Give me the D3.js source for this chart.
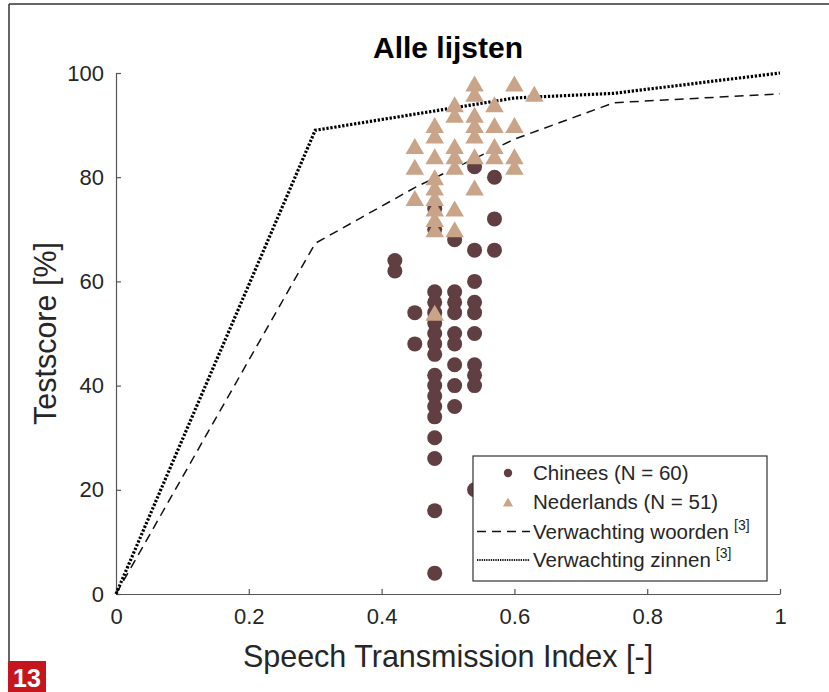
<!DOCTYPE html>
<html><head><meta charset="utf-8">
<script src="https://cdn.jsdelivr.net/npm/d3@7"></script>
<style>
html,body{margin:0;padding:0;background:#fff;}
svg{display:block;font-family:"Liberation Sans",Arial,Helvetica,sans-serif;}
</style></head>
<body><svg id="c" width="829" height="692"></svg>
<script>
// ---- data ----
const chineesX = [0.42,0.42, 0.45,0.45,
  0.48,0.48,0.48,0.48,0.48,0.48,0.48,0.48,0.48,0.48,0.48,0.48,0.48,0.48,0.48,0.48,0.48,0.48,
  0.51,0.51,0.51,0.51,0.51,0.51,0.51,0.51,0.51,
  0.54,0.54,0.54,0.54,0.54,0.54,0.54,0.54,0.54,0.54,
  0.57,0.57,0.57];
const chineesY = [64,62, 54,48,
  74,70,58,56,54,52,50,48,46,42,40,38,36,34,30,26,16,4,
  68,58,56,54,50,48,44,40,36,
  82,66,60,56,54,50,44,42,40,20,
  80,72,66];
const nederlandsX = [0.45,0.45,0.45,
  0.48,0.48,0.48,0.48,0.48,0.48,0.48,0.48,0.48,0.48,
  0.51,0.51,0.51,0.51,0.51,0.51,0.51,
  0.54,0.54,0.54,0.54,0.54,0.54,0.54,
  0.57,0.57,0.57,0.57,
  0.60,0.60,0.60,0.60,
  0.63];
const nederlandsY = [86,82,76,
  90,88,84,80,78,76,74,72,70,54,
  94,92,86,84,82,74,70,
  98,96,92,90,88,84,78,
  94,90,86,84,
  98,90,84,82,
  96];
const woordenX = [0,0.3,0.45,0.6,0.75,1];
const woordenY = [0,67.3,78,87.3,94.3,96];
const zinnenX = [0,0.3,0.6,0.75,1];
const zinnenY = [0,89,95.2,96.1,100];
const xTicks = [0,0.2,0.4,0.6,0.8,1];
const yTicks = [0,20,40,60,80,100];
const legendLabels = ["Chinees (N = 60)","Nederlands (N = 51)","Verwachting woorden","Verwachting zinnen"];

// ---- layout ----
const svg = d3.select("#c");
const L=116, R=780, T=73, B=594;
const x = d3.scaleLinear().domain([0,1]).range([L,R]);
const y = d3.scaleLinear().domain([0,100]).range([B,T]);
const axisCol="#555", textCol="#262626";
const cCol="#613e41", tCol="#c9a488";

// outer frame
svg.append("line").attr("x1",9).attr("x2",829).attr("y1",4).attr("y2",4).attr("stroke","#333").attr("stroke-width",1.5);
svg.append("line").attr("x1",9).attr("x2",9).attr("y1",4).attr("y2",661).attr("stroke","#333").attr("stroke-width",1.5);
svg.append("rect").attr("x",8).attr("y",661).attr("width",38).attr("height",31).attr("fill","#c4161c");
svg.append("text").attr("x",27).attr("y",687).attr("text-anchor","middle").attr("fill","#fff")
  .attr("font-weight","bold").attr("font-size",25).text("13");

// axes
const xa = svg.append("g").attr("transform",`translate(0,${B})`)
  .call(d3.axisBottom(x).tickValues(xTicks).tickFormat(d=>d3.format("~g")(d)).tickSizeInner(-5).tickSizeOuter(0).tickPadding(14));
const ya = svg.append("g").attr("transform",`translate(${L},0)`)
  .call(d3.axisLeft(y).tickValues(yTicks).tickSizeInner(-5).tickSizeOuter(0).tickPadding(12));
[xa,ya].forEach(g=>{
  g.select(".domain").attr("stroke",axisCol).attr("stroke-width",1.2);
  g.selectAll(".tick line").attr("stroke",axisCol).attr("stroke-width",1.2);
  g.selectAll(".tick text").attr("fill",textCol).attr("font-size",22).attr("font-family","Liberation Sans, Arial, sans-serif");
});

// title & labels
svg.append("text").attr("x",(L+R)/2).attr("y",58).attr("text-anchor","middle").attr("font-weight","bold")
  .attr("font-size",30).attr("fill","#000").text("Alle lijsten");
svg.append("text").attr("x",(L+R)/2).attr("y",667).attr("text-anchor","middle")
  .attr("font-size",30.5).attr("fill",textCol).text("Speech Transmission Index [-]");
svg.append("text").attr("transform",`translate(56,${(T+B)/2}) rotate(-90)`).attr("text-anchor","middle")
  .attr("font-size",30.5).attr("fill",textCol).text("Testscore [%]");

// lines
const line = d3.line().x(d=>x(d[0])).y(d=>y(d[1]));
const wData = woordenX.map((v,i)=>[v,woordenY[i]]);
const zData = zinnenX.map((v,i)=>[v,zinnenY[i]]);
svg.append("path").datum(wData).attr("d",line).attr("fill","none").attr("stroke","#111")
  .attr("stroke-width",1.5).attr("stroke-dasharray","9,6");
svg.append("path").datum(zData).attr("d",line).attr("fill","none").attr("stroke","#000")
  .attr("stroke-width",3.2).attr("stroke-dasharray","2.3,1.7");

// points
const triPath = (w,h)=>`M0,${-h/2}L${w/2},${h/2}L${-w/2},${h/2}Z`;
svg.append("g").selectAll("circle").data(chineesX.map((v,i)=>[v,chineesY[i]])).join("circle")
  .attr("cx",d=>x(d[0])).attr("cy",d=>y(d[1])).attr("r",7.5).attr("fill",cCol);
svg.append("g").selectAll("path").data(nederlandsX.map((v,i)=>[v,nederlandsY[i]])).join("path")
  .attr("transform",d=>`translate(${x(d[0])},${y(d[1])})`).attr("d",triPath(18.5,16)).attr("fill",tCol);

// legend
const lg = svg.append("g");
lg.append("rect").attr("x",473).attr("y",456).attr("width",294).attr("height",125)
  .attr("fill","#fff").attr("stroke","#333").attr("stroke-width",1.2);
const rows=[473,502,531.5,560];
lg.append("circle").attr("cx",508).attr("cy",rows[0]).attr("r",4.2).attr("fill",cCol);
lg.append("path").attr("transform",`translate(508,${rows[1]})`).attr("d",triPath(10,9)).attr("fill",tCol);
lg.append("line").attr("x1",477).attr("x2",530).attr("y1",rows[2]).attr("y2",rows[2]).attr("stroke","#111")
  .attr("stroke-width",1.3).attr("stroke-dasharray","9,6");
lg.append("line").attr("x1",477).attr("x2",530).attr("y1",rows[3]).attr("y2",rows[3]).attr("stroke","#111")
  .attr("stroke-width",1.8).attr("stroke-dasharray","1.3,1");
legendLabels.forEach((t,i)=>{
  const tx = lg.append("text").attr("x",533).attr("y",rows[i]+7).attr("font-size",20.5).attr("fill",textCol).text(t);
  if(i>=2){ tx.append("tspan").attr("dx",5).attr("dy",-9).attr("font-size",14).text("[3]"); }
});
</script></body></html>
